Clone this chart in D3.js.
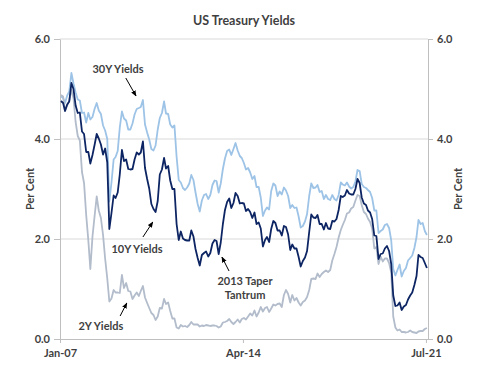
<!DOCTYPE html>
<html>
<head>
<meta charset="utf-8">
<script src="https://cdn.jsdelivr.net/npm/d3@7"></script>
<style>
  body { margin: 0; background: #fff; }
  svg text { font-family: Lato, "Open Sans", sans-serif; font-weight: bold; fill: #3f3f3f; }
  .axis path, .axis line { stroke: #bfbfbf; }
  .grid line { stroke: #d9d9d9; }
</style>
</head>
<body>
<div id="chart"></div>
<script>
// monthly readings, Jan-07 .. Jul-21
const startMonth = '2007-01-15';
const yields30Y = [
  4.85, 4.82, 4.72, 4.87, 4.95, 5.32, 5.11, 4.93, 4.79, 4.77, 4.52, 4.53,
  4.33, 4.52, 4.39, 4.44, 4.60, 4.72, 4.57, 4.50, 4.27, 4.17, 4.00, 2.75,
  3.13, 3.59, 3.64, 3.76, 4.23, 4.55, 4.41, 4.37, 4.19, 4.19, 4.31, 4.49,
  4.60, 4.62, 4.64, 4.78, 4.29, 4.13, 3.99, 3.80, 3.77, 3.87, 4.19, 4.42,
  4.52, 4.75, 4.51, 4.50, 4.29, 4.23, 4.27, 3.65, 3.18, 3.13, 3.02, 2.98,
  3.03, 3.11, 3.28, 3.18, 2.93, 2.70, 2.55, 2.77, 2.88, 2.90, 2.80, 2.88,
  3.08, 3.17, 3.16, 2.93, 3.11, 3.40, 3.61, 3.76, 3.79, 3.68, 3.80, 3.92,
  3.77, 3.66, 3.62, 3.52, 3.39, 3.42, 3.33, 3.20, 3.26, 3.04, 3.04, 2.83,
  2.46, 2.57, 2.63, 2.59, 2.96, 3.11, 3.07, 2.86, 2.95, 2.89, 3.03, 2.97,
  2.86, 2.62, 2.68, 2.62, 2.63, 2.45, 2.23, 2.26, 2.35, 2.50, 2.86, 3.11,
  3.02, 3.03, 3.08, 2.94, 2.96, 2.80, 2.88, 2.80, 2.78, 2.88, 2.80, 2.77,
  2.88, 3.13, 3.09, 3.07, 3.13, 3.05, 3.01, 3.04, 3.15, 3.38, 3.36, 3.10,
  3.04, 3.02, 2.98, 2.94, 2.82, 2.57, 2.57, 2.12, 2.16, 2.19, 2.28, 2.30,
  2.22, 1.97, 1.40, 1.27, 1.38, 1.49, 1.25, 1.36, 1.42, 1.57, 1.62, 1.67,
  1.82, 2.04, 2.38, 2.30, 2.32, 2.16, 2.08
];
const yields10Y = [
  4.76, 4.72, 4.56, 4.69, 4.75, 5.12, 5.00, 4.67, 4.52, 4.53, 4.15, 4.10,
  3.74, 3.74, 3.51, 3.68, 3.88, 4.10, 4.01, 3.89, 3.69, 3.81, 3.53, 2.20,
  2.52, 2.87, 2.82, 2.93, 3.29, 3.78, 3.56, 3.59, 3.40, 3.39, 3.40, 3.59,
  3.73, 3.69, 3.73, 3.95, 3.42, 3.20, 3.01, 2.70, 2.60, 2.54, 2.76, 3.29,
  3.39, 3.62, 3.41, 3.46, 3.17, 3.00, 3.00, 2.30, 1.98, 2.15, 2.01, 1.98,
  1.97, 1.97, 2.17, 2.05, 1.80, 1.62, 1.47, 1.68, 1.72, 1.75, 1.65, 1.72,
  1.91, 1.98, 1.96, 1.70, 1.93, 2.30, 2.58, 2.74, 2.81, 2.62, 2.72, 2.92,
  2.86, 2.71, 2.72, 2.71, 2.56, 2.60, 2.54, 2.42, 2.53, 2.30, 2.33, 2.21,
  1.85, 1.98, 2.04, 1.94, 2.20, 2.36, 2.32, 2.17, 2.17, 2.07, 2.26, 2.24,
  2.09, 1.78, 1.89, 1.81, 1.81, 1.64, 1.45, 1.56, 1.63, 1.76, 2.14, 2.49,
  2.43, 2.42, 2.48, 2.30, 2.30, 2.19, 2.32, 2.21, 2.20, 2.36, 2.35, 2.40,
  2.58, 2.86, 2.84, 2.87, 2.98, 2.91, 2.89, 2.89, 3.00, 3.20, 3.12, 2.83,
  2.71, 2.68, 2.57, 2.53, 2.40, 2.07, 2.06, 1.60, 1.70, 1.71, 1.81, 1.86,
  1.76, 1.50, 0.87, 0.66, 0.67, 0.73, 0.58, 0.65, 0.68, 0.79, 0.87, 0.93,
  1.08, 1.26, 1.68, 1.64, 1.62, 1.52, 1.42
];
const yields2Y = [
  4.88, 4.85, 4.57, 4.67, 4.77, 4.98, 4.82, 4.34, 4.06, 3.97, 3.34, 3.12,
  2.48, 1.97, 1.40, 2.05, 2.45, 2.85, 2.57, 2.42, 2.08, 1.61, 1.21, 0.75,
  0.81, 0.98, 0.93, 0.93, 0.92, 1.28, 1.02, 1.12, 0.96, 0.95, 0.80, 0.87,
  0.93, 0.86, 0.96, 1.06, 0.83, 0.72, 0.62, 0.52, 0.48, 0.38, 0.45, 0.62,
  0.61, 0.80, 0.70, 0.73, 0.56, 0.41, 0.41, 0.23, 0.21, 0.28, 0.25, 0.26,
  0.24, 0.28, 0.34, 0.29, 0.29, 0.29, 0.25, 0.27, 0.26, 0.28, 0.27, 0.26,
  0.27, 0.27, 0.26, 0.23, 0.25, 0.33, 0.34, 0.36, 0.40, 0.34, 0.30, 0.34,
  0.39, 0.33, 0.40, 0.42, 0.39, 0.45, 0.51, 0.47, 0.57, 0.45, 0.53, 0.64,
  0.55, 0.62, 0.64, 0.54, 0.61, 0.69, 0.67, 0.70, 0.71, 0.64, 0.88, 0.98,
  0.90, 0.73, 0.88, 0.77, 0.82, 0.73, 0.67, 0.74, 0.77, 0.84, 0.98, 1.20,
  1.21, 1.20, 1.31, 1.24, 1.30, 1.34, 1.37, 1.34, 1.38, 1.57, 1.70, 1.84,
  2.03, 2.18, 2.28, 2.38, 2.51, 2.53, 2.61, 2.64, 2.77, 2.88, 2.86, 2.68,
  2.54, 2.50, 2.41, 2.34, 2.21, 1.81, 1.84, 1.50, 1.65, 1.55, 1.61, 1.61,
  1.52, 1.33, 0.45, 0.23, 0.17, 0.19, 0.14, 0.14, 0.13, 0.14, 0.17, 0.14,
  0.13, 0.12, 0.15, 0.16, 0.16, 0.20, 0.22
];
const xTickDates = ['2007-01-01', '2014-04-01', '2021-07-01'];
const xTickLabels = ['Jan-07', 'Apr-14', 'Jul-21'];
const yTicks = [0, 2, 4, 6];

const parse = d3.timeParse('%Y-%m-%d');
const months = d3.range(yields10Y.length).map(i => d3.timeMonth.offset(parse(startMonth), i));

const width = 485, height = 372;
const margin = { top: 39, right: 57, bottom: 33, left: 60 };

const svg = d3.select('#chart').append('svg')
  .attr('width', width)
  .attr('height', height);

const x = d3.scaleTime()
  .domain([parse('2007-01-01'), parse('2021-07-31')])
  .range([margin.left, width - margin.right]);

const y = d3.scaleLinear()
  .domain([0, 6])
  .range([height - margin.bottom, margin.top]);

// gridlines
svg.append('g')
  .attr('class', 'grid')
  .selectAll('line')
  .data(yTicks.slice(1))
  .join('line')
    .attr('x1', x.range()[0])
    .attr('x2', x.range()[1])
    .attr('y1', d => y(d))
    .attr('y2', d => y(d));

const fmt = d3.format('.1f');

svg.append('g')
  .attr('class', 'axis')
  .attr('transform', `translate(${margin.left},0)`)
  .call(d3.axisLeft(y).tickValues(yTicks).tickFormat(fmt).tickSize(6).tickSizeOuter(0).tickPadding(4))
  .call(g => g.selectAll('text').attr('font-size', 11));

svg.append('g')
  .attr('class', 'axis')
  .attr('transform', `translate(${width - margin.right},0)`)
  .call(d3.axisRight(y).tickValues(yTicks).tickFormat(fmt).tickSize(5).tickSizeOuter(0).tickPadding(4))
  .call(g => g.selectAll('text').attr('font-size', 11));

svg.append('g')
  .attr('class', 'axis')
  .attr('transform', `translate(0,${height - margin.bottom})`)
  .call(d3.axisBottom(x)
    .tickValues(xTickDates.map(parse))
    .tickFormat((d, i) => xTickLabels[i])
    .tickSize(4).tickSizeOuter(0).tickPadding(6))
  .call(g => g.selectAll('text').attr('font-size', 11));

// series
const series = [
  { name: '30Y', values: yields30Y, color: '#9dc3e6' },
  { name: '2Y', values: yields2Y, color: '#b2bccb' },
  { name: '10Y', values: yields10Y, color: '#0d2563' }
];

const line = d3.line()
  .x(d => x(d.date))
  .y(d => y(d.value));

svg.append('g')
  .selectAll('path')
  .data(series)
  .join('path')
    .attr('fill', 'none')
    .attr('stroke', d => d.color)
    .attr('stroke-width', 1.8)
    .attr('stroke-linejoin', 'round')
    .attr('d', d => line(d.values.map((v, i) => ({ date: months[i], value: v }))));

// title and axis titles
svg.append('text')
  .attr('x', 244).attr('y', 25)
  .attr('text-anchor', 'middle')
  .attr('font-size', 12.5)
  .text('US Treasury Yields');

svg.append('text')
  .attr('transform', `translate(34,${y(3)}) rotate(-90)`)
  .attr('text-anchor', 'middle')
  .attr('font-size', 11)
  .text('Per Cent');

svg.append('text')
  .attr('transform', `translate(462,${y(3)}) rotate(-90)`)
  .attr('text-anchor', 'middle')
  .attr('font-size', 11)
  .text('Per Cent');

// annotations
const notes = [
  { lines: ['30Y Yields'], at: ['2009-04-20', 5.32], from: ['2009-08-10', 5.22], to: ['2010-01-05', 4.86] },
  { lines: ['10Y Yields'], at: ['2010-01-20', 1.72], from: ['2010-04-15', 2.04], to: ['2010-09-05', 2.34] },
  { lines: ['2Y Yields'], at: ['2008-08-15', 0.18], from: ['2009-05-20', 0.46], to: ['2009-08-25', 0.72] },
  { lines: ['2013 Taper', 'Tantrum'], at: ['2014-05-01', 1.08], from: ['2013-09-12', 1.36], to: ['2013-06-01', 1.64] }
];

svg.append('defs').append('marker')
  .attr('id', 'arrow')
  .attr('viewBox', '0 0 10 10')
  .attr('refX', 9).attr('refY', 5)
  .attr('markerWidth', 6).attr('markerHeight', 6)
  .attr('orient', 'auto')
  .append('path')
    .attr('d', 'M0,1 L10,5 L0,9 z')
    .attr('fill', '#000');

const ann = svg.append('g');
notes.forEach(n => {
  const t = ann.append('text')
    .attr('x', x(parse(n.at[0])))
    .attr('y', y(n.at[1]))
    .attr('text-anchor', 'middle')
    .attr('font-size', 11);
  n.lines.forEach((s, i) => t.append('tspan')
    .attr('x', x(parse(n.at[0])))
    .attr('dy', i ? 14 : 0)
    .text(s));
  ann.append('line')
    .attr('x1', x(parse(n.from[0]))).attr('y1', y(n.from[1]))
    .attr('x2', x(parse(n.to[0]))).attr('y2', y(n.to[1]))
    .attr('stroke', '#000')
    .attr('stroke-width', 1)
    .attr('marker-end', 'url(#arrow)');
});
</script>
</body>
</html>
